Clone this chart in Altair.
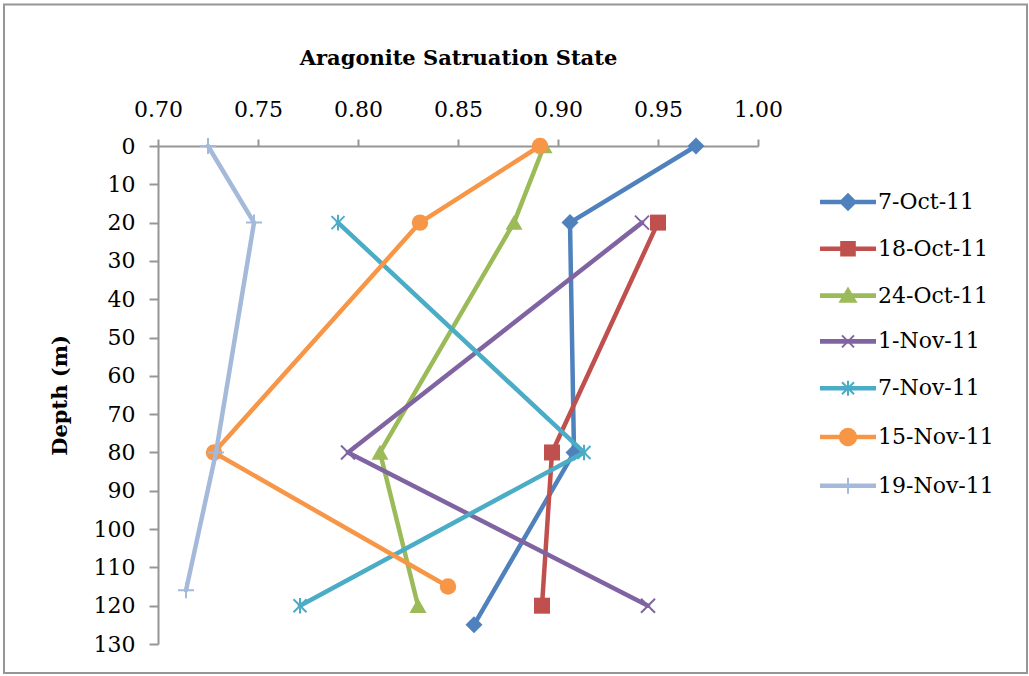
import altair as alt
import pandas as pd

# ---------------- data ----------------
series_names = ["7-Oct-11", "18-Oct-11", "24-Oct-11", "1-Nov-11",
                "7-Nov-11", "15-Nov-11", "19-Nov-11"]

depth_7oct = [0, 20, 80, 125]
omega_7oct = [0.969, 0.906, 0.908, 0.858]

depth_18oct = [20, 80, 120]
omega_18oct = [0.950, 0.897, 0.892]

depth_24oct = [0, 20, 80, 120]
omega_24oct = [0.893, 0.878, 0.811, 0.830]

depth_1nov = [20, 80, 120]
omega_1nov = [0.942, 0.795, 0.945]

depth_7nov = [20, 80, 120]
omega_7nov = [0.790, 0.913, 0.771]

depth_15nov = [0, 20, 80, 115]
omega_15nov = [0.891, 0.831, 0.728, 0.845]

depth_19nov = [0, 20, 80, 116]
omega_19nov = [0.725, 0.748, 0.729, 0.714]

x_ticks = [0.70, 0.75, 0.80, 0.85, 0.90, 0.95, 1.00]
y_ticks = [0, 10, 20, 30, 40, 50, 60, 70, 80, 90, 100, 110, 120, 130]

all_depths = [depth_7oct, depth_18oct, depth_24oct, depth_1nov,
              depth_7nov, depth_15nov, depth_19nov]
all_omegas = [omega_7oct, omega_18oct, omega_24oct, omega_1nov,
              omega_7nov, omega_15nov, omega_19nov]

rows = []
for name, ds, ws in zip(series_names, all_depths, all_omegas):
    for d, w in zip(ds, ws):
        rows.append({"series": name, "depth": d, "omega": w})
df = pd.DataFrame(rows)

# ---------------- styles ----------------
colors = ["#4F81BD", "#C0504D", "#9BBB59", "#8064A2",
          "#4BACC6", "#F79646", "#A5B9DA"]
FONT = "DejaVu Serif"
AXIS_GRAY = "#969696"

# plot markers: (shape path, size, filled)
marker_styles = [
    ("M0,-1L1,0L0,1L-1,0Z", 289, True),                       # diamond
    ("M-1,-1H1V1H-1Z", 256, True),                            # square
    ("M0,-0.9L1,0.85H-1Z", 289, True),                        # triangle
    ("M-1,-1L1,1M-1,1L1,-1", 196, False),                     # x
    ("M-1,-1L1,1M-1,1L1,-1M0,-1.2V1.2", 169, False),          # asterisk
    ("circle", 270, True),                                    # circle
    ("M-1,0H1M0,-1V1", 256, False),                           # plus
]

# legend symbols: line segment + marker (unit = 10 px at size 400)
LINE = "M-2.7,-0.13H2.7V0.13H-2.7Z"
legend_paths = [
    LINE + "M0,-0.78L0.78,0L0,0.78L-0.78,0Z",
    LINE + "M-0.68,-0.68H0.68V0.68H-0.68Z",
    LINE + "M0,-0.72L0.78,0.62H-0.78Z",
    LINE + "M-0.6,-0.6L0.6,0.6M-0.6,0.6L0.6,-0.6",
    LINE + "M-0.6,-0.6L0.6,0.6M-0.6,0.6L0.6,-0.6M0,-0.75V0.75",
    LINE + "M-0.82,0A0.82,0.82 0 1,1 0.82,0A0.82,0.82 0 1,1 -0.82,0Z",
    LINE + "M0,-0.8V0.8",
]

x_enc = alt.X(
    "omega:Q",
    scale=alt.Scale(domain=[0.70, 1.00], nice=False, zero=False),
    axis=alt.Axis(
        orient="top", values=x_ticks, format=".2f", grid=False,
        title="Aragonite Satruation State",
        titleFont=FONT, titleFontSize=21, titleFontWeight="bold",
        titleColor="black", titleBaseline="alphabetic", titleY=-82,
        labelFont=FONT, labelFontSize=22, labelColor="black",
        labelPadding=18, tickSize=7, tickColor=AXIS_GRAY, tickWidth=2,
        domainColor=AXIS_GRAY, domainWidth=2, labelFlush=False,
    ),
)
y_enc = alt.Y(
    "depth:Q",
    scale=alt.Scale(domain=[0, 130], reverse=True, nice=False, zero=False),
    axis=alt.Axis(
        values=y_ticks, grid=False, title="Depth (m)",
        titleFont=FONT, titleFontSize=21, titleFontWeight="bold",
        titleColor="black", titleBaseline="alphabetic", titleX=-92, titleY=249,
        labelFont=FONT, labelFontSize=22, labelColor="black",
        labelPadding=14, tickSize=9, tickColor=AXIS_GRAY, tickWidth=2,
        domainColor=AXIS_GRAY, domainWidth=2, labelFlush=False,
    ),
)

fill_scale = alt.Scale(domain=series_names, range=colors)
stroke_scale = alt.Scale(domain=series_names, range=colors)
shape_scale = alt.Scale(domain=series_names, range=legend_paths)

legend = alt.Legend(
    title=None, orient="none", legendX=659, legendY=45,
    symbolSize=400, symbolStrokeWidth=2, symbolOpacity=1,
    symbolOffset=20, labelOffset=19,
    labelFont=FONT, labelFontSize=22, labelColor="black", labelLimit=400,
    rowPadding=23.8,
)

base = alt.Chart(df)

series_layers = []
for name, col, (shp, sz, filled) in zip(series_names, colors, marker_styles):
    sel = base.transform_filter(alt.datum.series == name)
    ln = sel.mark_line(color=col, strokeWidth=4.5, strokeCap="round",
                       strokeJoin="round").encode(
        x=x_enc, y=y_enc, order=alt.Order("depth:Q"))
    if filled:
        pt = sel.mark_point(shape=shp, size=sz, filled=True, color=col,
                            opacity=1, strokeWidth=0)
    else:
        pt = sel.mark_point(shape=shp, size=sz, filled=False, color=col,
                            opacity=1, strokeWidth=2)
    series_layers += [ln, pt.encode(x=x_enc, y=y_enc)]

legend_layer = base.mark_point(filled=True, opacity=0, size=400).encode(
    x=x_enc, y=y_enc,
    fill=alt.Fill("series:N", scale=fill_scale, legend=legend),
    stroke=alt.Stroke("series:N", scale=stroke_scale, legend=legend),
    shape=alt.Shape("series:N", scale=shape_scale, legend=legend),
)

frame = alt.Chart(alt.Data(values=[{"f": 1}])).mark_rect(
    filled=False, stroke=AXIS_GRAY, strokeWidth=2
).encode(
    x=alt.value(-154), x2=alt.value(869), y=alt.value(-141.5), y2=alt.value(527)
)

chart = alt.layer(frame, *series_layers, legend_layer).properties(
    width=600, height=498,
    autosize=alt.AutoSizeParams(type="none"),
    padding={"left": 158, "top": 146, "right": 271, "bottom": 32},
    background="white",
).configure_view(strokeWidth=0)

chart.save("out.html", embed_options={"renderer": "svg", "actions": False})
